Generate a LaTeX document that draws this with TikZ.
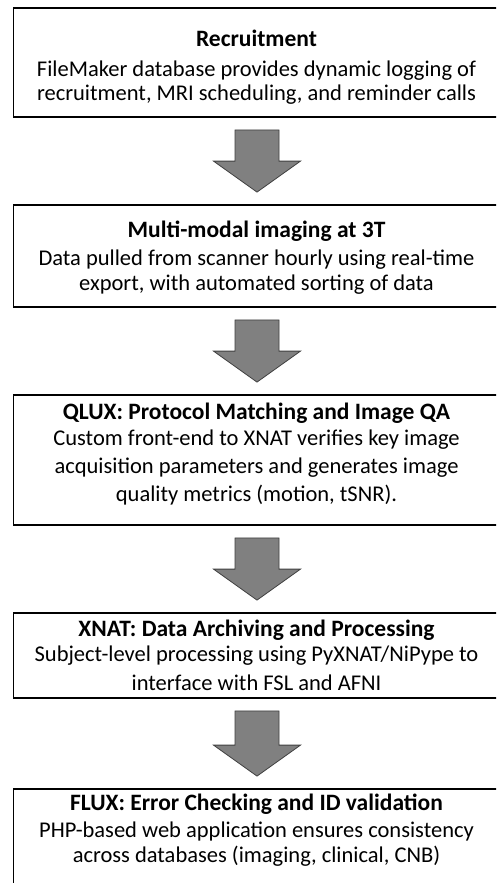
\documentclass[tikz,border=0pt]{standalone}
\usepackage{fontspec}
\setmainfont{Carlito}
\usetikzlibrary{calc}
\tikzset{
  box/.style={draw=black, line width=1.8pt, minimum width=486pt, inner sep=0pt},
  body/.style={anchor=base, inner sep=0pt, font=\fontsize{22.5}{27}\selectfont},
  ttl/.style={anchor=base, inner sep=0pt, font=\fontsize{23.5}{27}\selectfont\bfseries},
  blockarrow/.style={fill=black!50, draw=black!75, line width=0.8pt, line join=miter},
}
\newcommand{\blockarr}[2]{%
  \path let \p1=($(#1.south)+(0.5pt,-12pt)$), \p2=($(#2.north)+(0.5pt,12pt)$) in
    [blockarrow] (\x1-22pt,\y1) -- (\x1+22pt,\y1) -- (\x1+22pt,\y2+31pt)
    -- (\x1+43.5pt,\y2+31pt) -- (\x1,\y2) -- (\x1-43.5pt,\y2+31pt)
    -- (\x1-22pt,\y2+31pt) -- cycle;}
\begin{document}
\begin{tikzpicture}[x=1pt,y=-1pt]
\useasboundingbox (0,0) rectangle (496,883);
\clip (0,0) rectangle (496,883);
\fill[white] (0,0) rectangle (496,883);
% boxes
\node[box, minimum height=109pt] (b1) at (256.5,62.5) {};
\node[box, minimum height=102pt] (b2) at (256.5,256) {};
\node[box, minimum height=130pt] (b3) at (256.5,460) {};
\node[box, minimum height=85pt]  (b4) at (256.5,655.5) {};
\node[box, minimum height=150pt] (b5) at (256.5,864) {};
% texts
\node[ttl]  (t11) at (256.5,47)  {Recruitment};
\node[body] (t12) at (256.5,77)  {FileMaker database provides dynamic logging of};
\node[body] (t13) at (256.5,100) {recruitment, MRI scheduling, and reminder calls};
\node[ttl]  (t21) at (256.5,237) {Multi-modal imaging at 3T};
\node[body] (t22) at (256.5,265) {Data pulled from scanner hourly using real-time};
\node[body] (t23) at (256.5,290) {export, with automated sorting of data};
\node[ttl]  (t31) at (256.5,419) {QLUX: Protocol Matching and Image QA};
\node[body] (t32) at (256.5,445) {Custom front-end to XNAT verifies key image};
\node[body] (t33) at (256.5,473) {acquisition parameters and generates image};
\node[body] (t34) at (256.5,501) {quality metrics (motion, tSNR).};
\node[ttl]  (t41) at (256.5,636) {XNAT: Data Archiving and Processing};
\node[body] (t42) at (256.5,661) {Subject-level processing using PyXNAT/NiPype to};
\node[body] (t43) at (256.5,690) {interface with FSL and AFNI};
\node[ttl]  (t51) at (256.5,810) {FLUX: Error Checking and ID validation};
\node[body] (t52) at (256.5,837) {PHP-based web application ensures consistency};
\node[body] (t53) at (256.5,862) {across databases (imaging, clinical, CNB)};
% arrows
\blockarr{b1}{b2}
\blockarr{b2}{b3}
\blockarr{b3}{b4}
\blockarr{b4}{b5}
\end{tikzpicture}
\end{document}
